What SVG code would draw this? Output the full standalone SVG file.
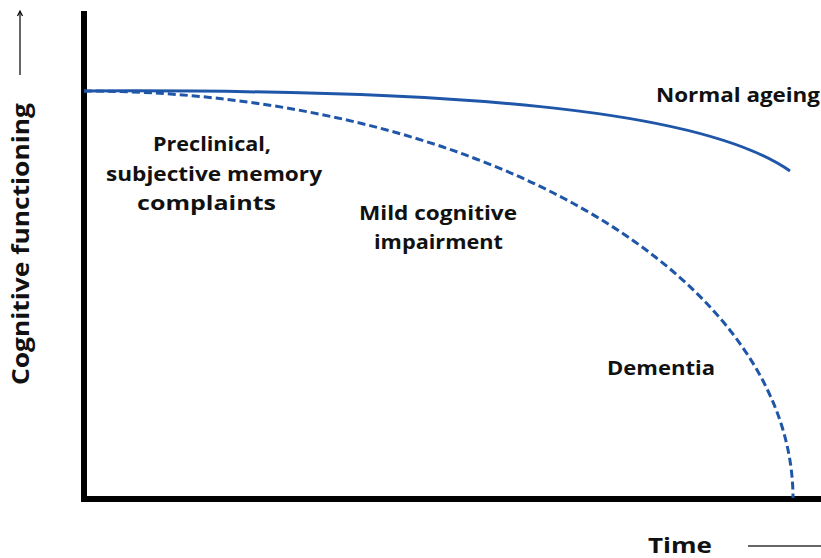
<svg xmlns="http://www.w3.org/2000/svg" width="821" height="558" viewBox="0 0 821 558">
<style>
.t{font-family:"Open Sans","Liberation Sans",sans-serif;font-weight:700;fill:#111}
.c{fill:none;stroke:#1f56a8;stroke-width:3}
.ax{stroke:#000;stroke-width:6;fill:none}
</style>
<g id="axes">
<line class="ax" x1="84" y1="11" x2="84" y2="501"/>
<line class="ax" x1="81" y1="499" x2="821" y2="499"/>
</g>
<g id="connectors">
<path id="normal" class="c" d="M84,91 C450,89 700,108 790,171"/>
<path id="decline" class="c" stroke-dasharray="8,4" d="M84,91 A709,407 0 0 1 793,498"/>
</g>
<g id="y-label">
<line x1="20" y1="75" x2="20" y2="12" stroke="#000" stroke-width="1.2"/>
<path d="M17.5,16 L20,11 L22.5,16" fill="none" stroke="#000" stroke-width="1.2"/>
<text class="t" font-size="24" transform="translate(29,244) rotate(-90)" text-anchor="middle" textLength="282" lengthAdjust="spacingAndGlyphs">Cognitive functioning</text>
</g>
<g id="x-label">
<text class="t" font-size="22" x="648" y="553" textLength="64" lengthAdjust="spacingAndGlyphs">Time</text>
<line x1="748" y1="546" x2="821" y2="546" stroke="#333" stroke-width="1.5"/>
</g>
<g id="normal-ageing"><text class="t" font-size="19" x="656" y="102" textLength="164" lengthAdjust="spacingAndGlyphs">Normal ageing</text></g>
<g id="preclinical">
<text class="t" font-size="20">
<tspan x="153" y="151" textLength="118" lengthAdjust="spacingAndGlyphs">Preclinical,</tspan>
<tspan x="106" y="181" textLength="216" lengthAdjust="spacingAndGlyphs">subjective memory</tspan>
<tspan x="137" y="210" textLength="139" lengthAdjust="spacingAndGlyphs">complaints</tspan>
</text>
</g>
<g id="mci">
<text class="t" font-size="20">
<tspan x="359" y="220" textLength="158" lengthAdjust="spacingAndGlyphs">Mild cognitive</tspan>
<tspan x="374" y="249" textLength="129" lengthAdjust="spacingAndGlyphs">impairment</tspan>
</text>
</g>
<g id="dementia"><text class="t" font-size="19" x="607" y="375" textLength="108" lengthAdjust="spacingAndGlyphs">Dementia</text></g>
</svg>
